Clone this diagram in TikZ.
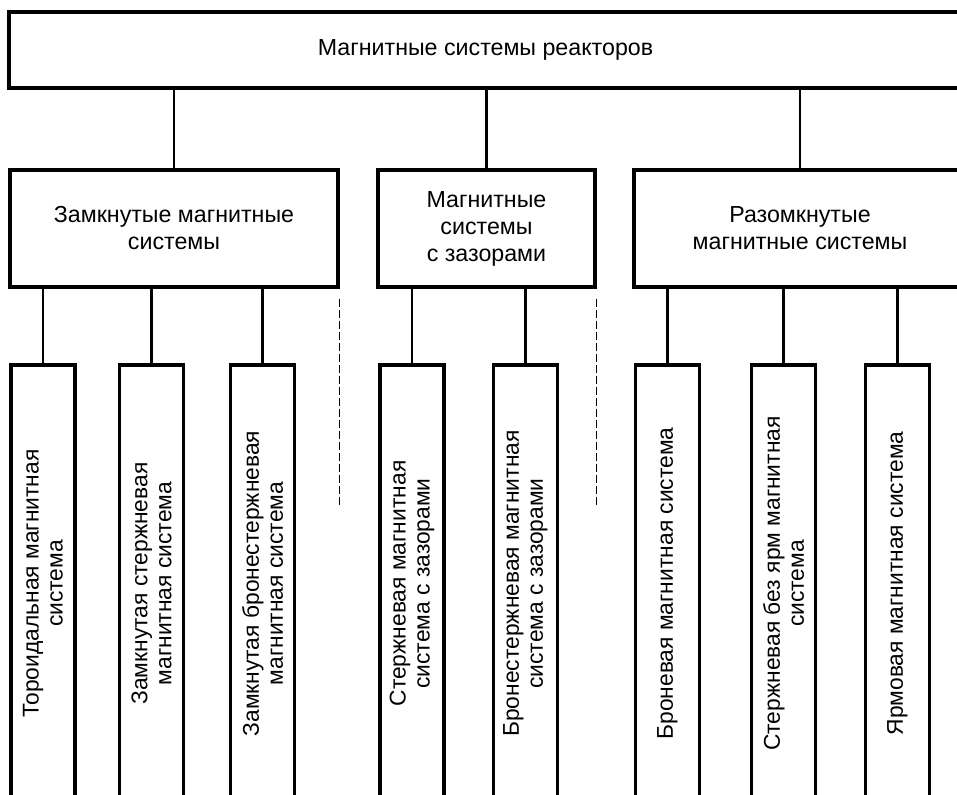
\documentclass[tikz,border=0pt]{standalone}
\usepackage{fontspec}
\setmainfont{Liberation Sans}
\usetikzlibrary{positioning}

\begin{document}
\begin{tikzpicture}[x=1pt, y=1pt, node distance={10mm}, thick, auto=center]
                \tikzstyle{root} = [rectangle, draw, line width=1.6pt, minimum width=476.5pt, minimum height=38pt, font=\fontsize{11.6}{13.5}\selectfont]
                \tikzstyle{group} = [rectangle, draw, line width=1.6pt, minimum height=58.5pt, align=center, font=\fontsize{11.6}{13.5}\selectfont]
                \tikzstyle{leaf} = [rectangle, draw, line width=1.6pt, rotate=90, minimum width=218.5pt, minimum height=32pt, inner sep=1pt, align=center, font=\fontsize{11.4}{12}\selectfont]
                \tikzstyle{link} = [line width=1.2pt]
                \tikzstyle{sep} = [line width=0.7pt, dash pattern=on 4pt off 1.5pt]

                \useasboundingbox (0,0) rectangle (478.5,-397);

                % Root node (top row)
                \node[root] (top) at (242.75,-25) {Магнитные системы реакторов};

                % Group nodes (second row)
                \node[group, minimum width=164pt] (zam) at (87,-114.25) {Замкнутые магнитные\\системы};
                \node[group, minimum width=108.5pt] (zaz) at (243.25,-114.25) {Магнитные\\системы\\с зазорами};
                \node[group, minimum width=166pt] (raz) at (400,-114.25) {Разомкнутые\\магнитные системы};

                % Leaf nodes (closed systems)
                \node[leaf] (z1) at (21.5,-291.75) {Тороидальная магнитная\\система};
                \node[leaf] (z2) at (75.75,-291.75) {Замкнутая стержневая\\магнитная система};
                \node[leaf] (z3) at (131.25,-291.75) {Замкнутая бронестержневая\\магнитная система};

                % Leaf nodes (systems with gaps)
                \node[leaf] (g1) at (206,-291.75) {Стержневая магнитная\\система с зазорами};
                \node[leaf] (g2) at (262.75,-291.75) {Бронестержневая магнитная\\система с зазорами};

                % Leaf nodes (open systems)
                \node[leaf] (r1) at (333.75,-291.75) {Броневая магнитная система};
                \node[leaf] (r2) at (391.75,-291.75) {Стержневая без ярм магнитная\\система};
                \node[leaf] (r3) at (448.75,-291.75) {Ярмовая магнитная система};

                \draw[link] (zam.north) -- (zam.north |- top.south);
                \draw[link] (zaz.north) -- (zaz.north |- top.south);
                \draw[link] (raz.north) -- (raz.north |- top.south);
                \draw[link] (z1.east) -- (z1.east |- zam.south);
                \draw[link] (z2.east) -- (z2.east |- zam.south);
                \draw[link] (z3.east) -- (z3.east |- zam.south);
                \draw[link] (g1.east) -- (g1.east |- zaz.south);
                \draw[link] (g2.east) -- (g2.east |- zaz.south);
                \draw[link] (r1.east) -- (r1.east |- raz.south);
                \draw[link] (r2.east) -- (r2.east |- raz.south);
                \draw[link] (r3.east) -- (r3.east |- raz.south);

                \draw[sep] ([yshift=-5pt]zam.south east) -- ++(0,-104);
                \draw[sep] ([yshift=-5pt]zaz.south east) -- ++(0,-104);
            \end{tikzpicture}
\end{document}
